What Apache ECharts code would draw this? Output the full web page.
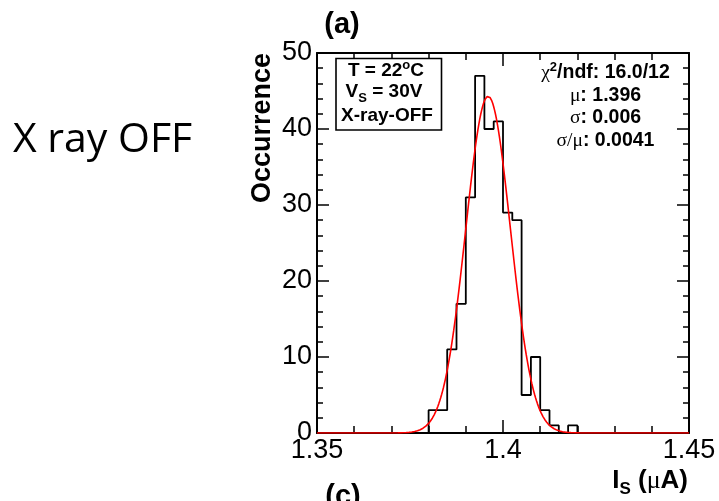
<!DOCTYPE html>
<html>
<head>
<meta charset="utf-8">
<script src="https://cdn.jsdelivr.net/npm/echarts@6/dist/echarts.min.js"></script>
<style>
  html, body { margin: 0; padding: 0; background: #ffffff; }
  #chart { width: 719px; height: 501px; }
</style>
</head>
<body>
<div id="chart"></div>
<script>
// Histogram of the measured source current I_S (uA), bin width 0.0025
const binStart = 1.35;
const binWidth = 0.0025;
const counts = [
  0, 0, 0, 0, 0, 0, 0, 0, 0, 0, 0, 0,
  3, 3, 11, 17, 31, 47, 40, 41, 29, 28, 5, 10, 3, 1, 0, 1,
  0, 0, 0, 0, 0, 0, 0, 0, 0, 0, 0, 0
];

// Gaussian fit parameters
const fitConstant = 44.3;
const fitMean = 1.396;
const fitSigma = 0.006;
const fitChi2 = 16.0;
const fitNdf = 12;
const fitRatio = 0.0041;

// Axis ticks
const xTickValues = [1.35, 1.40, 1.45];
const xTickLabels = ['1.35', '1.4', '1.45'];
const yTickValues = [0, 10, 20, 30, 40, 50];
const yTickLabels = ['0', '10', '20', '30', '40', '50'];

const xMin = 1.35, xMax = 1.45;

// Step outline of the histogram: one point per bin low edge plus the last high edge
const histPoints = counts.map((c, i) => [binStart + i * binWidth, c]);
histPoints.push([binStart + counts.length * binWidth, 0]);

// Fitted Gaussian curve sampled across the axis range
const fitPoints = [];
for (let i = 0; i <= 400; i++) {
  const x = xMin + (xMax - xMin) * i / 400;
  const z = (x - fitMean) / fitSigma;
  fitPoints.push([x, fitConstant * Math.exp(-0.5 * z * z)]);
}

function labelFor(values, labels, v) {
  for (let i = 0; i < values.length; i++) {
    if (Math.abs(values[i] - v) < 1e-9) return labels[i];
  }
  return '';
}

const axisColor = '#000000';
const tickStyle = { color: axisColor, width: 1.5 };

const chart = echarts.init(document.getElementById('chart'), null, { renderer: 'canvas' });

const boldFont = 'Liberation Sans, Arial, Helvetica, sans-serif';
const serifFont = 'Liberation Serif, Times New Roman, serif';
const statSize = 19.5;
const boxSize = 19;

chart.setOption({
  backgroundColor: '#ffffff',
  animation: false,
  grid: { left: 317, right: 30, top: 53, bottom: 68, containLabel: false },
  xAxis: [
    {
      type: 'value', position: 'bottom', min: xMin, max: xMax, interval: 0.05,
      axisLine: { show: true, onZero: false, lineStyle: { color: axisColor, width: 2 } },
      axisTick: { show: true, inside: true, length: 13, lineStyle: tickStyle },
      minorTick: { show: true, splitNumber: 5, length: 7, lineStyle: tickStyle },
      splitLine: { show: false },
      axisLabel: {
        show: true, margin: 4, color: '#000', fontFamily: boldFont, fontSize: 27,
        formatter: v => labelFor(xTickValues, xTickLabels, v)
      }
    },
    {
      type: 'value', position: 'top', min: xMin, max: xMax, interval: 0.05,
      axisLine: { show: true, onZero: false, lineStyle: { color: axisColor, width: 2 } },
      axisTick: { show: true, inside: true, length: 13, lineStyle: tickStyle },
      minorTick: { show: true, splitNumber: 5, length: 7, lineStyle: tickStyle },
      splitLine: { show: false },
      axisLabel: { show: false }
    }
  ],
  yAxis: [
    {
      type: 'value', position: 'left', min: 0, max: 50, interval: 10,
      axisLine: { show: true, onZero: false, lineStyle: { color: axisColor, width: 2 } },
      axisTick: { show: true, inside: true, length: 12, lineStyle: tickStyle },
      minorTick: { show: true, splitNumber: 5, length: 6, lineStyle: tickStyle },
      splitLine: { show: false },
      axisLabel: {
        show: true, margin: 5, color: '#000', fontFamily: boldFont, fontSize: 27,
        formatter: v => labelFor(yTickValues, yTickLabels, v)
      }
    },
    {
      type: 'value', position: 'right', min: 0, max: 50, interval: 10,
      axisLine: { show: true, onZero: false, lineStyle: { color: axisColor, width: 2 } },
      axisTick: { show: true, inside: true, length: 12, lineStyle: tickStyle },
      minorTick: { show: true, splitNumber: 5, length: 6, lineStyle: tickStyle },
      splitLine: { show: false },
      axisLabel: { show: false }
    }
  ],
  series: [
    {
      name: 'Occurrence',
      type: 'line',
      xAxisIndex: 0, yAxisIndex: 0,
      step: 'end',
      data: histPoints,
      showSymbol: false,
      lineStyle: { color: '#000000', width: 1.8 },
      z: 3
    },
    {
      name: 'Gaussian fit',
      type: 'line',
      xAxisIndex: 0, yAxisIndex: 0,
      data: fitPoints,
      smooth: false,
      showSymbol: false,
      lineStyle: { color: '#ff0000', width: 1.6 },
      z: 4
    }
  ],
  graphic: [
    {
      type: 'text', x: 13, y: 140,
      style: {
        text: 'X ray OFF', fill: '#000', align: 'left', verticalAlign: 'middle',
        font: '41px "Open Sans", "Noto Sans", sans-serif'
      }
    },
    {
      type: 'text', x: 342, y: 25,
      style: {
        text: '(a)', fill: '#000', align: 'center', verticalAlign: 'middle',
        font: 'bold 29px ' + boldFont
      }
    },
    {
      type: 'text', x: 343, y: 482,
      style: {
        text: '(c)', fill: '#000', align: 'center', verticalAlign: 'top',
        font: 'bold 29px ' + boldFont
      }
    },
    {
      type: 'text', x: 263, y: 128, rotation: Math.PI / 2,
      style: {
        text: 'Occurrence', fill: '#000', align: 'center', verticalAlign: 'middle',
        font: 'bold 27px ' + boldFont
      }
    },
    {
      type: 'text', x: 688, y: 481,
      style: {
        text: '{b|I}{sub|S}{b| (}{g|\u03bc}{b|A)}',
        align: 'right', verticalAlign: 'middle', fill: '#000',
        rich: {
          b: { fontFamily: boldFont, fontWeight: 'bold', fontSize: 26, fill: '#000' },
          g: { fontFamily: serifFont, fontSize: 26, fill: '#000' },
          sub: { fontFamily: boldFont, fontWeight: 'bold', fontSize: 17, fill: '#000', padding: [16, 0, 0, 0] }
        }
      }
    },
    // Run conditions box
    {
      type: 'rect',
      shape: { x: 336, y: 58.5, width: 105.5, height: 71.5 },
      style: { fill: '#ffffff', stroke: '#000000', lineWidth: 1.6 },
      z: 10
    },
    {
      type: 'text', x: 386, y: 71, z: 11,
      style: {
        text: '{b|T = 22}{sup|o}{b|C}', align: 'center', verticalAlign: 'middle', fill: '#000',
        rich: {
          b: { fontFamily: boldFont, fontWeight: 'bold', fontSize: boxSize, fill: '#000' },
          sup: { fontFamily: boldFont, fontWeight: 'bold', fontSize: 13, fill: '#000', padding: [0, 0, 12, 0] }
        }
      }
    },
    {
      type: 'text', x: 384, y: 92, z: 11,
      style: {
        text: '{b|V}{sub|S}{b| = 30V}', align: 'center', verticalAlign: 'middle', fill: '#000',
        rich: {
          b: { fontFamily: boldFont, fontWeight: 'bold', fontSize: boxSize, fill: '#000' },
          sub: { fontFamily: boldFont, fontWeight: 'bold', fontSize: 13, fill: '#000', padding: [12, 0, 0, 0] }
        }
      }
    },
    {
      type: 'text', x: 387, y: 116, z: 11,
      style: {
        text: 'X-ray-OFF', align: 'center', verticalAlign: 'middle', fill: '#000',
        font: 'bold ' + boxSize + 'px ' + boldFont
      }
    },
    // Fit statistics
    {
      type: 'text', x: 605.5, y: 73, z: 11,
      style: {
        text: '{g|\u03c7}{sup|2}{b|/ndf: ' + fitChi2.toFixed(1) + '/' + fitNdf + '}',
        align: 'center', verticalAlign: 'middle', fill: '#000',
        rich: {
          b: { fontFamily: boldFont, fontWeight: 'bold', fontSize: statSize, fill: '#000' },
          g: { fontFamily: serifFont, fontSize: statSize, fill: '#000' },
          sup: { fontFamily: boldFont, fontWeight: 'bold', fontSize: 13, fill: '#000', padding: [0, 0, 12, 0] }
        }
      }
    },
    {
      type: 'text', x: 605.5, y: 95.5, z: 11,
      style: {
        text: '{g|\u03bc}{b|: ' + fitMean.toFixed(3) + '}',
        align: 'center', verticalAlign: 'middle', fill: '#000',
        rich: {
          b: { fontFamily: boldFont, fontWeight: 'bold', fontSize: statSize, fill: '#000' },
          g: { fontFamily: serifFont, fontSize: statSize, fill: '#000' }
        }
      }
    },
    {
      type: 'text', x: 605.5, y: 118, z: 11,
      style: {
        text: '{g|\u03c3}{b|: ' + fitSigma.toFixed(3) + '}',
        align: 'center', verticalAlign: 'middle', fill: '#000',
        rich: {
          b: { fontFamily: boldFont, fontWeight: 'bold', fontSize: statSize, fill: '#000' },
          g: { fontFamily: serifFont, fontSize: statSize, fill: '#000' }
        }
      }
    },
    {
      type: 'text', x: 605.5, y: 140.5, z: 11,
      style: {
        text: '{g|\u03c3/\u03bc}{b|: ' + fitRatio.toFixed(4) + '}',
        align: 'center', verticalAlign: 'middle', fill: '#000',
        rich: {
          b: { fontFamily: boldFont, fontWeight: 'bold', fontSize: statSize, fill: '#000' },
          g: { fontFamily: serifFont, fontSize: statSize, fill: '#000' }
        }
      }
    }
  ]
});
</script>
</body>
</html>
